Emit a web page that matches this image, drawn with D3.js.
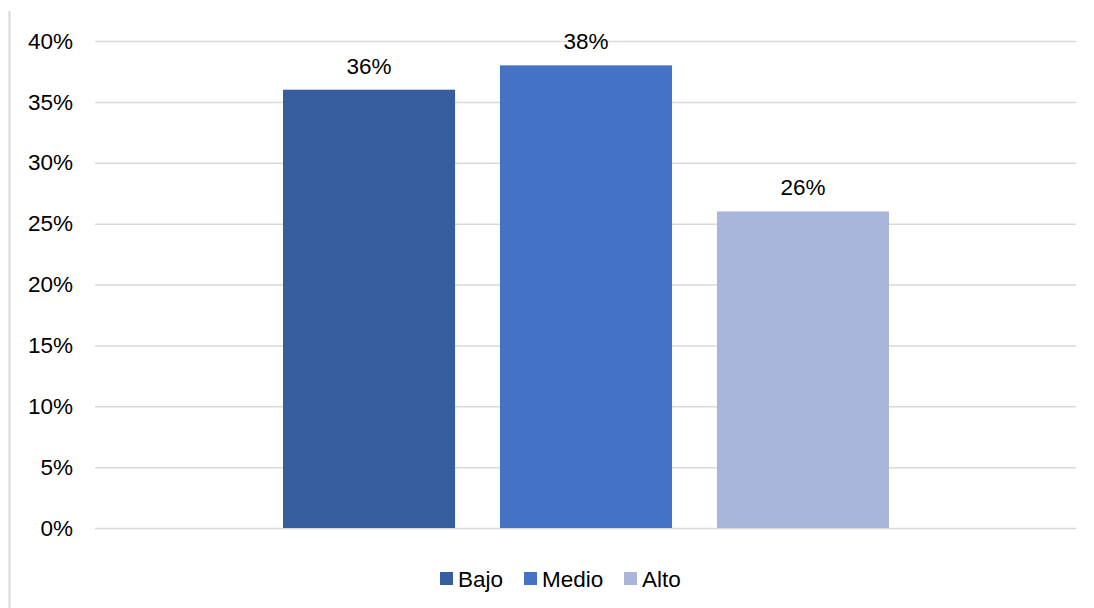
<!DOCTYPE html>
<html><head><meta charset="utf-8">
<script src="https://cdn.jsdelivr.net/npm/d3@7"></script>
<style>body{margin:0;background:#fff}svg{display:block;font-family:"Liberation Sans",Arial,sans-serif}</style>
</head><body><svg id="c" width="1094" height="608"></svg>
<script>
const series = ["Bajo", "Medio", "Alto"];
const values = [0.36, 0.38, 0.26];
const colors = ["#365E9F", "#4472C4", "#A9B6D9"];
const yTicks = [0, 0.05, 0.10, 0.15, 0.20, 0.25, 0.30, 0.35, 0.40];

const svg = d3.select("#c");
const y = d3.scaleLinear().domain([0, 0.4]).range([528, 41]);
const x = d3.scaleBand().domain(series).range([283, 889]).paddingInner(0.207).paddingOuter(0);
const fmt = d3.format(".0%");
const FS = 22.5;

// left border line
svg.append("line").attr("x1", 9.5).attr("x2", 9.5).attr("y1", 11).attr("y2", 608)
  .attr("stroke", "#d9d9d9").attr("stroke-width", 2);

// y axis with gridlines
const yAxis = d3.axisLeft(y).tickValues(yTicks).tickFormat(fmt).tickSize(-(1076 - 95)).tickPadding(22);
const g = svg.append("g").attr("transform", "translate(95,0)").call(yAxis);
g.select(".domain").remove();
g.selectAll(".tick line").attr("stroke", "#d9d9d9").attr("stroke-width", 1.5);
g.selectAll(".tick text").attr("font-size", FS).attr("fill", "#000").attr("font-family", "Liberation Sans, Arial, sans-serif");

// bars
svg.selectAll("rect.bar").data(series).enter().append("rect").attr("class", "bar")
  .attr("x", d => x(d)).attr("width", x.bandwidth())
  .attr("y", (d, i) => y(values[i])).attr("height", (d, i) => y(0) - y(values[i]))
  .attr("fill", (d, i) => colors[i]);

// labels
svg.selectAll("text.lbl").data(series).enter().append("text").attr("class", "lbl")
  .attr("x", d => x(d) + x.bandwidth() / 2).attr("y", (d, i) => y(values[i]) - 16)
  .attr("text-anchor", "middle").attr("font-size", FS).attr("fill", "#000")
  .text((d, i) => fmt(values[i]));

// legend
const legX = [440, 524, 624];
const leg = svg.append("g");
series.forEach((s, i) => {
  leg.append("rect").attr("x", legX[i]).attr("y", 572).attr("width", 13).attr("height", 13).attr("fill", colors[i]);
  leg.append("text").attr("x", legX[i] + 18).attr("y", 586.5).attr("font-size", FS).attr("fill", "#000").text(s);
});
</script></body></html>
